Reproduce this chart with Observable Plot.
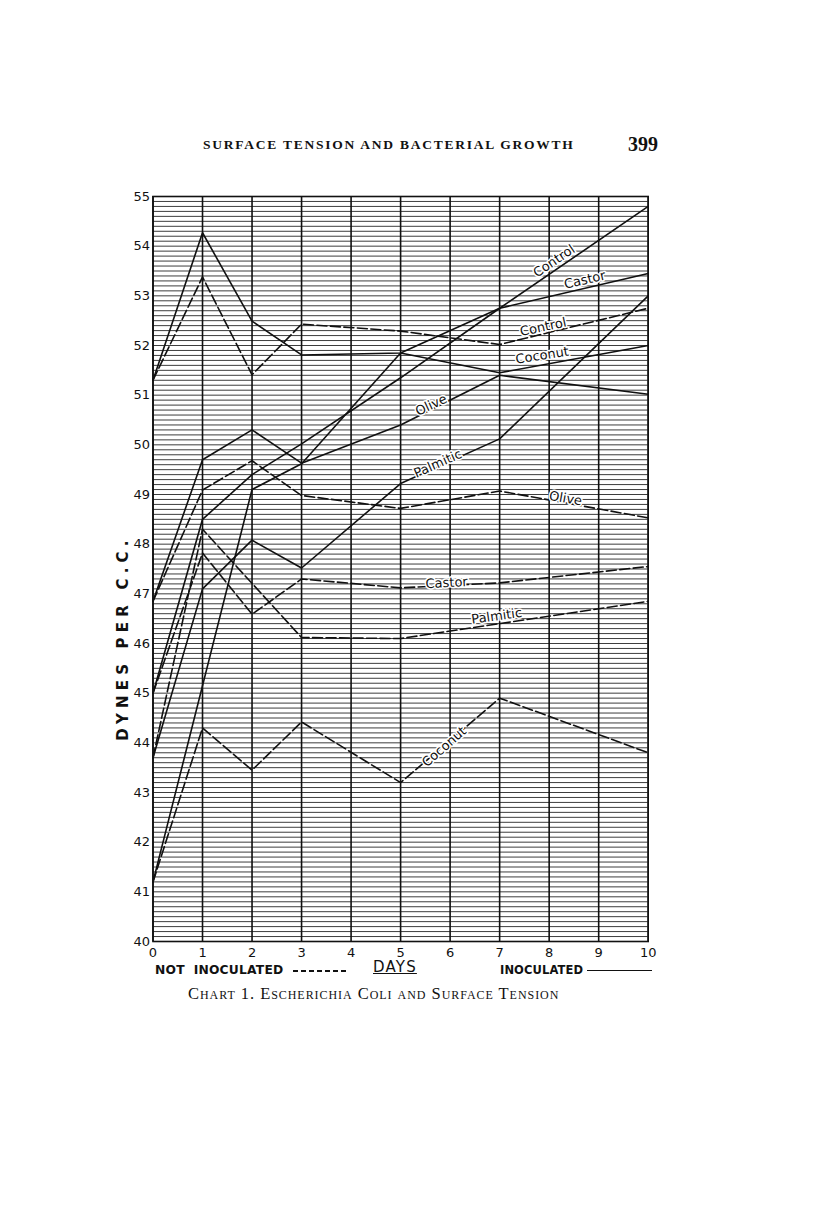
<!DOCTYPE html>
<html><head><meta charset="utf-8">
<script src="https://cdn.jsdelivr.net/npm/d3@7"></script>
<script src="https://cdn.jsdelivr.net/npm/@observablehq/plot@0.6"></script>
<style>
body{margin:0;background:#fff;width:816px;height:1205px;position:relative;overflow:hidden;color:#111;}
.abs{position:absolute;white-space:nowrap;}
#header{left:203px;top:137px;font:bold 13.5px "Liberation Serif",serif;letter-spacing:1.75px;}
#page{left:628px;top:133px;font:bold 20px "Liberation Serif",serif;}
#chart{left:100px;top:180px;}
#ytitle{left:123px;top:638px;transform:translate(-50%,-50%) rotate(-90deg);font:bold 15px "DejaVu Sans",sans-serif;letter-spacing:5.2px;}
#notinoc{left:155px;top:963px;font:bold 12.3px "DejaVu Sans",sans-serif;letter-spacing:0.2px;}
#notdash{left:293px;top:970px;width:54px;height:1.6px;background:repeating-linear-gradient(90deg,#111 0 5px,transparent 5px 8px);}
#days{left:373px;top:958px;font:15px "DejaVu Sans",sans-serif;letter-spacing:1.2px;text-decoration:underline;}
#inoc{left:500px;top:963px;font:bold 11.5px "DejaVu Sans",sans-serif;letter-spacing:0.1px;}
#inocline{left:587px;top:970px;width:65px;height:0;border-top:1.6px solid #111;}
#caption{left:188px;top:984px;font:16.5px "Liberation Serif",serif;font-variant:small-caps;letter-spacing:0.95px;}
</style></head>
<body>
<div class="abs" id="header">SURFACE TENSION AND BACTERIAL GROWTH</div>
<div class="abs" id="page">399</div>
<div class="abs" id="chart"></div>
<div class="abs" id="ytitle">DYNES PER C.C.</div>
<div class="abs" id="notinoc">NOT &nbsp;INOCULATED</div>
<div class="abs" id="notdash"></div>
<div class="abs" id="days">DAYS</div>
<div class="abs" id="inoc">INOCULATED</div>
<div class="abs" id="inocline"></div>
<div class="abs" id="caption">Chart 1. Escherichia Coli and Surface Tension</div>
<script>
// Days on which readings were plotted
const days = [0, 1, 2, 3, 5, 7, 10];

// Inoculated (solid lines), dynes per c.c.
const controlInoc  = [51.3, 54.27, 52.49, 51.81, 51.85, 52.75, 54.8];
const castorInoc   = [45.0, 48.5, 49.4, 50.02, 51.35, 52.75, 53.45];
const coconutInoc  = [41.2, null, 49.1, 49.62, 51.85, 51.45, 52.0];
const oliveInoc    = [46.85, 49.7, 50.3, 49.63, 50.4, 51.4, 51.02];
const palmiticInoc = [43.7, 47.1, 48.08, 47.52, 49.22, 50.12, 53.0];

// Not inoculated (dashed lines)
const controlNot  = [51.3, 53.38, 51.41, 52.43, 52.29, 52.02, 52.75];
const castorNot   = [45.0, 47.82, 46.59, 47.3, 47.12, 47.22, 47.55];
const coconutNot  = [41.2, 44.3, 43.45, 44.42, 43.2, 44.9, 43.8];
const oliveNot    = [46.85, 49.09, 49.68, 48.98, 48.72, 49.07, 48.53];
const palmiticNot = [43.7, 48.3, null, 46.12, 46.1, null, 46.85];

// Axis tick labels
const dayTicks = [0, 1, 2, 3, 4, 5, 6, 7, 8, 9, 10];
const dyneTicks = [40, 41, 42, 43, 44, 45, 46, 47, 48, 49, 50, 51, 52, 53, 54, 55];

// Line annotations
const labelText  = ["Control", "Castor", "Control", "Coconut", "Olive", "Palmitic", "Olive", "Castor", "Palmitic", "Coconut"];
const labelDay   = [8.1, 8.72, 7.88, 7.86, 5.62, 5.75, 8.33, 5.93, 6.94, 5.88];
const labelValue = [53.7, 53.32, 52.37, 51.8, 50.8, 49.62, 48.92, 47.22, 46.55, 43.92];
const labelAngle = [-34, -13, -12, -9, -25, -24, 10, -3, -8, -41];

function rowsOf(name, arr) {
  const out = [];
  arr.forEach((v, i) => { if (v != null) out.push({series: name, day: days[i], value: v}); });
  return out;
}
const solid = [].concat(
  rowsOf("Control", controlInoc), rowsOf("Castor", castorInoc), rowsOf("Coconut", coconutInoc),
  rowsOf("Olive", oliveInoc), rowsOf("Palmitic", palmiticInoc));
const dashed = [].concat(
  rowsOf("Control", controlNot), rowsOf("Castor", castorNot), rowsOf("Coconut", coconutNot),
  rowsOf("Olive", oliveNot), rowsOf("Palmitic", palmiticNot));
const labels = labelText.map((t, i) => ({text: t, day: labelDay[i], value: labelValue[i], angle: labelAngle[i]}));
const fineGrid = d3.range(400, 551).map(d => d / 10);

const chart = Plot.plot({
  width: 580, height: 790,
  marginLeft: 52.5, marginRight: 32.3, marginTop: 16, marginBottom: 29,
  x: {domain: [0, 10], ticks: dayTicks, tickSize: 0, tickPadding: 6, label: null},
  y: {domain: [40, 55], ticks: dyneTicks, tickSize: 0, tickPadding: 3, label: null},
  style: {fontFamily: "DejaVu Sans, sans-serif", fontSize: "13px", background: "white", color: "#111", overflow: "visible"},
  marks: [
    Plot.ruleY(fineGrid, {stroke: "#1a1a1a", strokeWidth: 0.85}),
    Plot.ruleX(dayTicks, {stroke: "#111", strokeWidth: 1.6}),
    Plot.frame({stroke: "#111", strokeWidth: 1.6}),
    Plot.line(solid, {x: "day", y: "value", z: "series", stroke: "#111", strokeWidth: 1.6}),
    Plot.line(dashed, {x: "day", y: "value", z: "series", stroke: "#111", strokeWidth: 1.6, strokeDasharray: "10,3.5"}),
    Plot.text(labels, {x: "day", y: "value", text: "text", rotate: "angle", fontSize: 13, fill: "#111",
      stroke: "white", strokeWidth: 3, paintOrder: "stroke"})
  ]
});
document.getElementById("chart").appendChild(chart);
</script>
</body></html>
